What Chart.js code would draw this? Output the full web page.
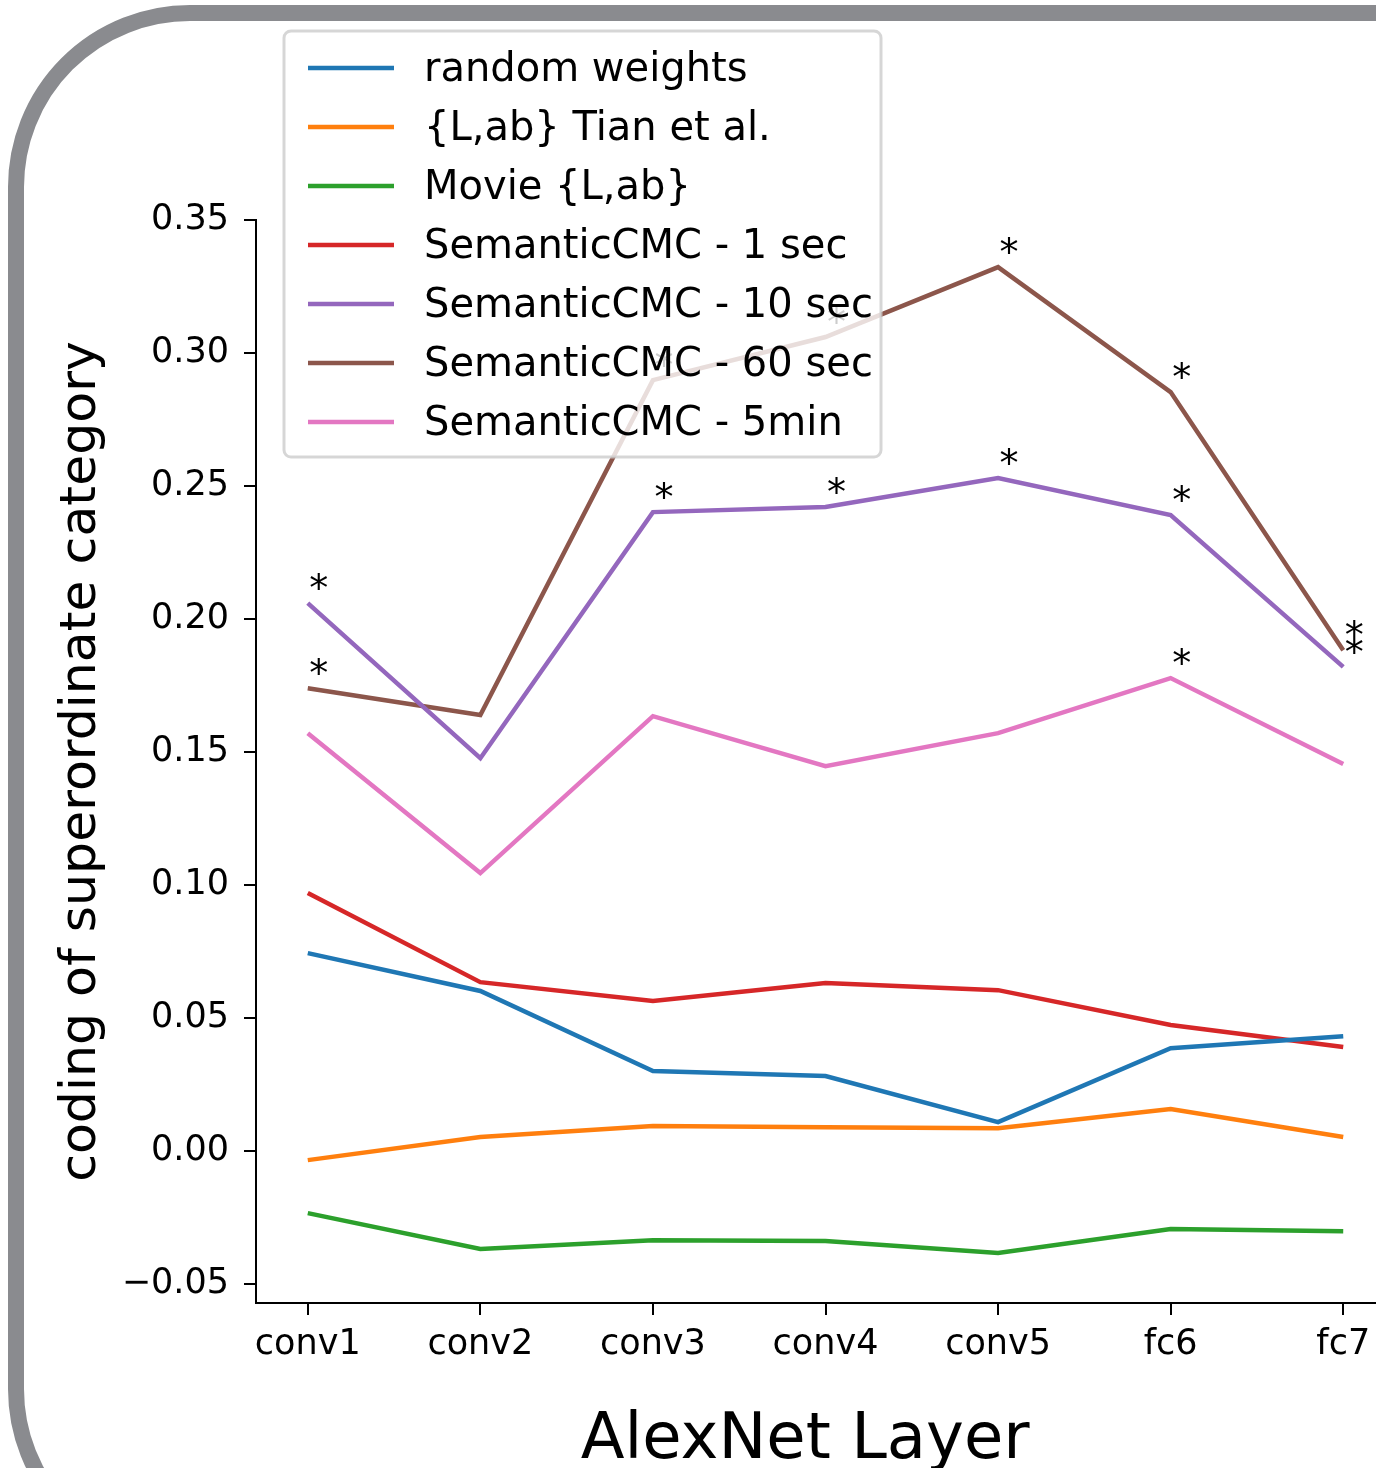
<!DOCTYPE html>
<html>
<head>
<meta charset="utf-8">
<script src="https://cdn.jsdelivr.net/npm/chart.js@4.4.1/dist/chart.umd.min.js"></script>
<style>
  html, body { margin: 0; padding: 0; background: #ffffff; overflow: hidden; width: 1376px; height: 1468px; }
  #frame { position: absolute; left: 8px; top: 5px; width: 1520px; height: 1534px; border: 16px solid #8a8b8f; border-radius: 182px; box-sizing: content-box; pointer-events: none; }
  #wrap { position: absolute; left: 0; top: 0; width: 1420px; height: 1500px; }
</style>
</head>
<body>
<div id="frame"></div>
<div id="wrap"><canvas id="c" width="1420" height="1500"></canvas></div>
<script>
// ---- data ----
const layers = ['conv1', 'conv2', 'conv3', 'conv4', 'conv5', 'fc6', 'fc7'];
const yTickValues = [-0.05, 0.00, 0.05, 0.10, 0.15, 0.20, 0.25, 0.30, 0.35];

const seriesLabels = ['random weights', '{L,ab} Tian et al.', 'Movie {L,ab}', 'SemanticCMC - 1 sec', 'SemanticCMC - 10 sec', 'SemanticCMC - 60 sec', 'SemanticCMC - 5min'];
const seriesColors = ['#1f77b4', '#ff7f0e', '#2ca02c', '#d62728', '#9467bd', '#8c564b', '#e377c2'];

const randomWeights = [0.0744, 0.0602, 0.0301, 0.0282, 0.0109, 0.0387, 0.0432];
const tianLab       = [-0.0034, 0.0053, 0.0094, 0.0090, 0.0086, 0.0158, 0.0053];
const movieLab      = [-0.0233, -0.0368, -0.0335, -0.0338, -0.0383, -0.0293, -0.0301];
const semantic1s    = [0.0970, 0.0635, 0.0564, 0.0632, 0.0605, 0.0474, 0.0391];
const semantic10s   = [0.2060, 0.1477, 0.2402, 0.2421, 0.2530, 0.2391, 0.1820];
const semantic60s   = [0.1740, 0.1639, 0.2898, 0.3060, 0.3323, 0.2853, 0.1883];
const semantic5min  = [0.1571, 0.1045, 0.1635, 0.1447, 0.1571, 0.1778, 0.1455];

// indices (layers) marked significant with an asterisk, per series
const sig10s  = [0, 2, 3, 4, 5, 6];
const sig60s  = [0, 2, 3, 4, 5, 6];
const sig5min = [5];

const allSeries = [randomWeights, tianLab, movieLab, semantic1s, semantic10s, semantic60s, semantic5min];
const allSig = [[], [], [], [], sig10s, sig60s, sig5min];

const FONT = "'DejaVu Sans', 'Liberation Sans', sans-serif";

const datasets = allSeries.map((vals, k) => ({
  label: seriesLabels[k],
  data: vals.map((v, i) => ({ x: i, y: v })),
  borderColor: seriesColors[k],
  backgroundColor: seriesColors[k],
  borderWidth: 4.5,
  pointRadius: 0,
  tension: 0,
  fill: false,
  sig: allSig[k]
}));

const overlayPlugin = {
  id: 'overlay',
  afterDatasetsDraw(chart) {
    const ctx = chart.ctx;
    ctx.save();
    // significance asterisks
    ctx.fillStyle = '#000';
    ctx.font = '38px ' + FONT;
    ctx.textAlign = 'center';
    ctx.textBaseline = 'alphabetic';
    chart.data.datasets.forEach((ds, k) => {
      const meta = chart.getDatasetMeta(k);
      (ds.sig || []).forEach(j => {
        const pt = meta.data[j];
        ctx.fillText('*', pt.x + 11, pt.y - 2);
      });
    });
    // legend (drawn over the lines, semi-transparent like matplotlib)
    const bx = 284, by = 31, bw = 597, bh = 426, r = 7;
    ctx.beginPath();
    ctx.roundRect(bx, by, bw, bh, r);
    ctx.fillStyle = 'rgba(255,255,255,0.8)';
    ctx.fill();
    ctx.lineWidth = 3;
    ctx.strokeStyle = 'rgba(204,204,204,0.8)';
    ctx.stroke();
    ctx.font = '40px ' + FONT;
    ctx.textAlign = 'left';
    ctx.textBaseline = 'middle';
    chart.data.datasets.forEach((ds, k) => {
      const y = 68 + k * 59;
      ctx.beginPath();
      ctx.moveTo(308, y);
      ctx.lineTo(394, y);
      ctx.strokeStyle = ds.borderColor;
      ctx.lineWidth = 4.5;
      ctx.stroke();
      ctx.fillStyle = '#000';
      ctx.fillText(ds.label, 424, y + 3);
    });
    ctx.restore();
  }
};

new Chart(document.getElementById('c'), {
  type: 'line',
  data: { datasets },
  options: {
    responsive: false,
    animation: false,
    devicePixelRatio: 1,
    layout: { padding: { top: 220, right: 25, left: 0, bottom: 0 } },
    plugins: { legend: { display: false }, tooltip: { enabled: false } },
    scales: {
      x: {
        type: 'linear',
        min: -0.3,
        max: 6.3,
        afterBuildTicks: (s) => { s.ticks = layers.map((_, i) => ({ value: i })); },
        afterFit: (s) => { s.height = 197; },
        ticks: {
          autoSkip: false, maxRotation: 0, padding: 9,
          color: '#000', font: { family: FONT, size: 35 },
          callback: (v) => layers[v]
        },
        grid: { display: true, drawOnChartArea: false, drawTicks: true, tickLength: 12, color: '#000', lineWidth: 2 },
        border: { display: true, color: '#000', width: 2 },
        title: { display: true, text: 'AlexNet Layer  ', color: '#000', font: { family: FONT, size: 64 }, padding: { top: 0, bottom: 20 } }
      },
      y: {
        type: 'linear',
        min: -0.0571,
        max: 0.35,
        afterBuildTicks: (s) => { s.ticks = yTickValues.map(v => ({ value: v })); },
        afterFit: (s) => { s.width = 256; },
        ticks: {
          padding: 15, color: '#000', font: { family: FONT, size: 35 },
          callback: (v) => (Math.round(v * 100) / 100).toFixed(2).replace('-', '\u2212')
        },
        grid: { display: true, drawOnChartArea: false, drawTicks: true, tickLength: 12, color: '#000', lineWidth: 2 },
        border: { display: true, color: '#000', width: 2 },
        title: { display: true, text: 'coding of superordinate category', color: '#000', font: { family: FONT, size: 50.5 }, padding: { top: 52, bottom: 0 } }
      }
    }
  },
  plugins: [overlayPlugin]
});
</script>
</body>
</html>
